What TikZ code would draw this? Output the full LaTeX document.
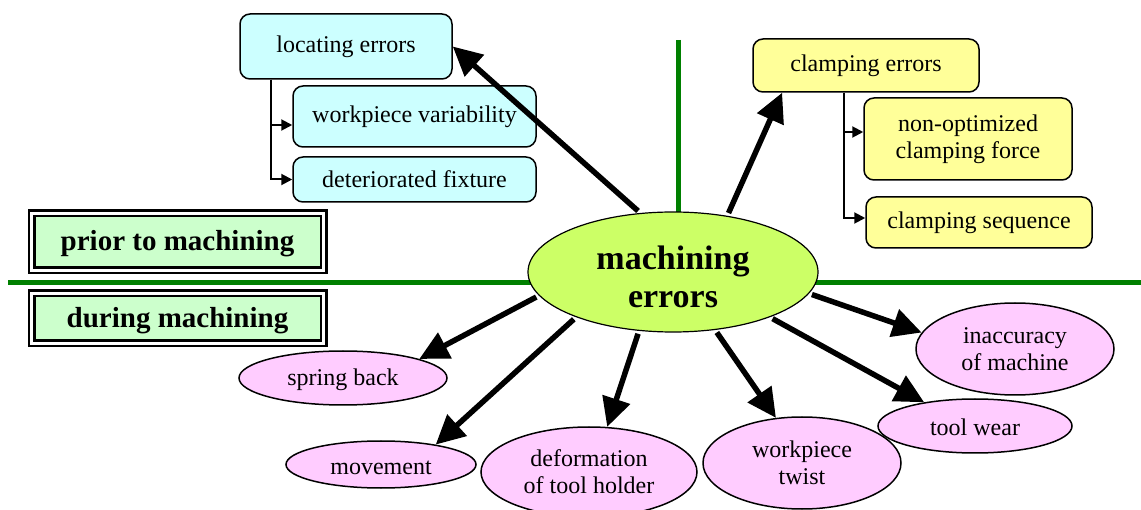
\documentclass[tikz,border=0pt]{standalone}
\usepackage{fontspec}
\setmainfont{Liberation Serif}
\usetikzlibrary{arrows.meta,shapes.geometric,backgrounds}
\definecolor{gline}{HTML}{008000}
\definecolor{bluef}{HTML}{CCFFFF}
\definecolor{yelf}{HTML}{FFFF99}
\definecolor{pinkf}{HTML}{FFCCFF}
\definecolor{boxg}{HTML}{CCFFCC}
\definecolor{centf}{HTML}{CCFF66}
\begin{document}
\begin{tikzpicture}[x=1pt,y=-1pt,
 txt/.style={font=\fontsize{24}{27}\selectfont, align=center, inner sep=0pt},
 rbox/.style={txt, draw=black, line width=1.5pt, rounded corners=10pt},
 bluebox/.style={rbox, fill=bluef},
 yelbox/.style={rbox, fill=yelf},
 pinkell/.style={txt, ellipse, draw=black, line width=1.5pt, fill=pinkf},
 phase/.style={font=\fontsize{29}{32}\selectfont\bfseries, inner sep=0pt, fill=boxg, draw=black, line width=2.5pt, double=white, double distance=3pt},
 bigarrow/.style={line width=5.5pt, -{Triangle[length=29pt,width=28pt]}, shorten <=3pt},
 subarrow/.style={line width=2pt, -{Triangle[length=11pt,width=11pt]}},
 divider/.style={gline, line width=5pt}
]
\useasboundingbox (0,0) rectangle (1141,510);

% top-left group
\node[bluebox, minimum width=212pt, minimum height=65pt] (loc) at (346,46.5) {locating errors};
\node[bluebox, minimum width=243pt, minimum height=61pt] (wv) at (414.5,116.5) {workpiece variability};
\node[bluebox, minimum width=243pt, minimum height=45pt] (df) at (414.5,179.5) {deteriorated fixture};

% top-right group
\node[yelbox, minimum width=226pt, minimum height=53pt] (ce) at (866,65.5) {clamping errors};
\node[yelbox, minimum width=208pt, minimum height=82pt] (nf) at (968,139) {non-optimized\\clamping force};
\node[yelbox, minimum width=226pt, minimum height=51pt] (cs) at (979,222.5) {clamping sequence};

% phase labels
\node[phase, minimum width=292pt, minimum height=57pt] (pm) at (177.5,242) {\rule{0pt}{24pt}prior to machining};
\node[phase, minimum width=292pt, minimum height=50pt] (dm) at (177.5,318.5) {\rule{0pt}{24pt}during machining};

% centre
\node[ellipse, draw=black, line width=1.2pt, fill=centf, minimum width=290pt, minimum height=120pt, inner sep=0pt, font=\fontsize{34}{38}\selectfont\bfseries, align=center] (me) at (673,272) {\rule{0pt}{34pt}machining\\errors};

% bottom ellipses
\node[pinkell, minimum width=208pt, minimum height=54pt] (sb) at (343,378) {\rule{0pt}{20pt}spring back};
\node[pinkell, minimum width=190pt, minimum height=47pt] (mv) at (381,464.5) {\rule{0pt}{20pt}movement};
\node[pinkell, minimum width=216pt, minimum height=90pt] (dt) at (589,472) {deformation\\of tool holder};
\node[pinkell, minimum width=198pt, minimum height=92pt] (wt) at (802,463) {workpiece\\twist};
\node[pinkell, minimum width=198pt, minimum height=92pt] (im) at (1015,349) {inaccuracy\\of machine};
\node[pinkell, minimum width=194pt, minimum height=54pt] (tw) at (975,426) {\rule{0pt}{20pt}tool wear};

% dividers
\coordinate (hl) at (8,283);
\coordinate (hr) at (1141,283);
\coordinate (vt) at (678,40);
\begin{scope}[on background layer]
\draw[divider] (hl) -- (hr);
\draw[divider] (vt) -- (vt |- me.center);
\end{scope}

% sub connectors
\coordinate (lx) at (271,0);
\coordinate (cx) at (844,0);
\draw[subarrow] (loc.south -| lx) |- ([yshift=-8.5pt]wv.west);
\draw[subarrow] (loc.south -| lx) |- (df.west);
\draw[subarrow] (ce.south -| cx) |- ([yshift=7pt]nf.west);
\draw[subarrow] (ce.south -| cx) |- ([yshift=4.5pt]cs.west);

% big arrows
\draw[bigarrow] (me.119.2) -- (loc.east);
\draw[bigarrow] (me.46) -- (ce.198);
\draw[bigarrow] (me.190.1) -- (sb.14.7);
\draw[bigarrow] (me.205.4) -- (mv.20.1);
\draw[bigarrow] (me.240.9) -- (dt.68.2);
\draw[bigarrow] (me.306.9) -- (wt.120.4);
\draw[bigarrow] (me.335.7) -- (tw.155.3);
\draw[bigarrow] (me.351.5) -- (im.170.1);
\end{tikzpicture}
\end{document}
